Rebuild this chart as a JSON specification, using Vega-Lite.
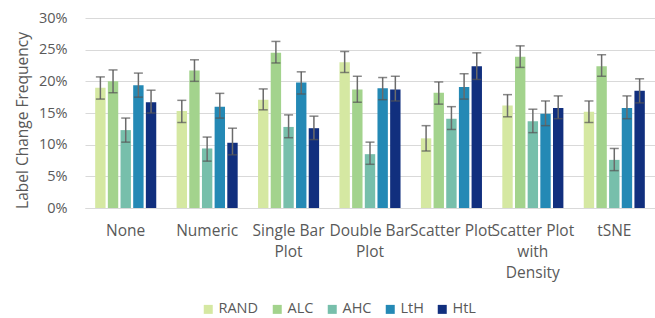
{
  "$schema": "https://vega.github.io/schema/vega-lite/v6.json",
  "autosize": {"type": "none"},
  "width": 570,
  "height": 190,
  "padding": {"left": 85, "top": 18, "right": 0, "bottom": 110},
  "background": "white",
  "config": {
    "view": {"stroke": null},
    "font": "Open Sans",
    "axis": {"labelColor": "#595959", "titleColor": "#595959", "labelFont": "Open Sans", "titleFont": "Open Sans"},
    "axisY": {
      "titleFontSize": 15.5,
      "titleFontWeight": "normal",
      "titlePadding": 8,
      "labelFontSize": 14.5,
      "labelPadding": 18,
      "labelOverlap": false,
      "ticks": false,
      "tickSize": 0,
      "domain": false,
      "gridColor": "#d9d9d9",
      "gridWidth": 1
    },
    "legend": {"labelColor": "#595959", "labelFont": "Open Sans"}
  },
  "data": {
    "values": [
      {"method": "None", "series": "RAND", "value": 0.190, "lo": 0.172, "hi": 0.207},
      {"method": "None", "series": "ALC", "value": 0.200, "lo": 0.182, "hi": 0.218},
      {"method": "None", "series": "AHC", "value": 0.123, "lo": 0.104, "hi": 0.142},
      {"method": "None", "series": "LtH", "value": 0.194, "lo": 0.175, "hi": 0.213},
      {"method": "None", "series": "HtL", "value": 0.167, "lo": 0.150, "hi": 0.186},
      {"method": "Numeric", "series": "RAND", "value": 0.153, "lo": 0.135, "hi": 0.170},
      {"method": "Numeric", "series": "ALC", "value": 0.217, "lo": 0.200, "hi": 0.234},
      {"method": "Numeric", "series": "AHC", "value": 0.094, "lo": 0.074, "hi": 0.112},
      {"method": "Numeric", "series": "LtH", "value": 0.160, "lo": 0.142, "hi": 0.181},
      {"method": "Numeric", "series": "HtL", "value": 0.103, "lo": 0.084, "hi": 0.126},
      {"method": "Single Bar Plot", "series": "RAND", "value": 0.171, "lo": 0.155, "hi": 0.188},
      {"method": "Single Bar Plot", "series": "ALC", "value": 0.245, "lo": 0.229, "hi": 0.263},
      {"method": "Single Bar Plot", "series": "AHC", "value": 0.128, "lo": 0.111, "hi": 0.147},
      {"method": "Single Bar Plot", "series": "LtH", "value": 0.198, "lo": 0.180, "hi": 0.215},
      {"method": "Single Bar Plot", "series": "HtL", "value": 0.126, "lo": 0.108, "hi": 0.145},
      {"method": "Double Bar Plot", "series": "RAND", "value": 0.230, "lo": 0.214, "hi": 0.247},
      {"method": "Double Bar Plot", "series": "ALC", "value": 0.187, "lo": 0.167, "hi": 0.208},
      {"method": "Double Bar Plot", "series": "AHC", "value": 0.085, "lo": 0.069, "hi": 0.104},
      {"method": "Double Bar Plot", "series": "LtH", "value": 0.189, "lo": 0.171, "hi": 0.206},
      {"method": "Double Bar Plot", "series": "HtL", "value": 0.187, "lo": 0.169, "hi": 0.208},
      {"method": "Scatter Plot", "series": "RAND", "value": 0.110, "lo": 0.090, "hi": 0.130},
      {"method": "Scatter Plot", "series": "ALC", "value": 0.182, "lo": 0.164, "hi": 0.199},
      {"method": "Scatter Plot", "series": "AHC", "value": 0.141, "lo": 0.124, "hi": 0.160},
      {"method": "Scatter Plot", "series": "LtH", "value": 0.191, "lo": 0.172, "hi": 0.212},
      {"method": "Scatter Plot", "series": "HtL", "value": 0.224, "lo": 0.203, "hi": 0.245},
      {"method": "Scatter Plot with Density", "series": "RAND", "value": 0.162, "lo": 0.144, "hi": 0.179},
      {"method": "Scatter Plot with Density", "series": "ALC", "value": 0.239, "lo": 0.222, "hi": 0.256},
      {"method": "Scatter Plot with Density", "series": "AHC", "value": 0.137, "lo": 0.119, "hi": 0.156},
      {"method": "Scatter Plot with Density", "series": "LtH", "value": 0.149, "lo": 0.130, "hi": 0.169},
      {"method": "Scatter Plot with Density", "series": "HtL", "value": 0.158, "lo": 0.141, "hi": 0.177},
      {"method": "tSNE", "series": "RAND", "value": 0.152, "lo": 0.135, "hi": 0.169},
      {"method": "tSNE", "series": "ALC", "value": 0.224, "lo": 0.208, "hi": 0.242},
      {"method": "tSNE", "series": "AHC", "value": 0.076, "lo": 0.059, "hi": 0.094},
      {"method": "tSNE", "series": "LtH", "value": 0.158, "lo": 0.141, "hi": 0.177},
      {"method": "tSNE", "series": "HtL", "value": 0.185, "lo": 0.166, "hi": 0.204}
    ]
  },
  "encoding": {
    "x": {
      "field": "method",
      "type": "nominal",
      "sort": null,
      "scale": {"paddingInner": 0.25, "paddingOuter": 0.125},
      "axis": {
        "title": null,
        "labelAngle": 0,
        "labelFontSize": 15.5,
        "labelPadding": 22,
        "labelLineHeight": 21,
        "labelBaseline": "middle",
        "ticks": false,
        "tickSize": 0,
        "domainColor": "#d9d9d9",
        "domainWidth": 1,
        "labelOverlap": false,
        "labelExpr": "datum.label == 'Single Bar Plot' ? ['Single Bar', 'Plot'] : datum.label == 'Double Bar Plot' ? ['Double Bar', 'Plot'] : datum.label == 'Scatter Plot with Density' ? ['Scatter Plot', 'with', 'Density'] : datum.label"
      }
    },
    "xOffset": {
      "field": "series",
      "type": "nominal",
      "sort": ["RAND", "ALC", "AHC", "LtH", "HtL"],
      "scale": {"paddingInner": 0.18}
    }
  },
  "layer": [
    {
      "mark": {"type": "bar"},
      "encoding": {
        "y": {
          "field": "value",
          "type": "quantitative",
          "scale": {"domain": [0, 0.3], "nice": false},
          "axis": {"title": "Label Change Frequency", "titleY": 102, "format": ".0%", "values": [0, 0.05, 0.1, 0.15, 0.2, 0.25, 0.3]}
        },
        "color": {
          "field": "series",
          "type": "nominal",
          "scale": {
            "domain": ["RAND", "ALC", "AHC", "LtH", "HtL"],
            "range": ["#d5e8a2", "#a3d38d", "#77bfab", "#2489b5", "#112f7e"]
          },
          "legend": {
            "title": null,
            "orient": "none",
            "direction": "horizontal",
            "columns": 5,
            "legendX": 116,
            "legendY": 284,
            "symbolType": "square",
            "symbolSize": 81,
            "symbolStrokeWidth": 0,
            "labelFontSize": 14.5,
            "labelOffset": 3,
            "columnPadding": 11
          }
        }
      }
    },
    {
      "mark": {"type": "rule", "color": "#6b6b6b", "strokeWidth": 1.5},
      "encoding": {
        "y": {"field": "lo", "type": "quantitative", "scale": {"domain": [0, 0.3], "nice": false}, "axis": {"title": "Label Change Frequency", "titleY": 102, "format": ".0%", "values": [0, 0.05, 0.1, 0.15, 0.2, 0.25, 0.3]}},
        "y2": {"field": "hi"}
      }
    },
    {
      "mark": {"type": "tick", "color": "#555555", "size": 9, "thickness": 1.5},
      "encoding": {
        "y": {"field": "lo", "type": "quantitative", "scale": {"domain": [0, 0.3], "nice": false}, "axis": {"title": "Label Change Frequency", "titleY": 102, "format": ".0%", "values": [0, 0.05, 0.1, 0.15, 0.2, 0.25, 0.3]}}
      }
    },
    {
      "mark": {"type": "tick", "color": "#555555", "size": 9, "thickness": 1.5},
      "encoding": {
        "y": {"field": "hi", "type": "quantitative", "scale": {"domain": [0, 0.3], "nice": false}, "axis": {"title": "Label Change Frequency", "titleY": 102, "format": ".0%", "values": [0, 0.05, 0.1, 0.15, 0.2, 0.25, 0.3]}}
      }
    }
  ]
}
